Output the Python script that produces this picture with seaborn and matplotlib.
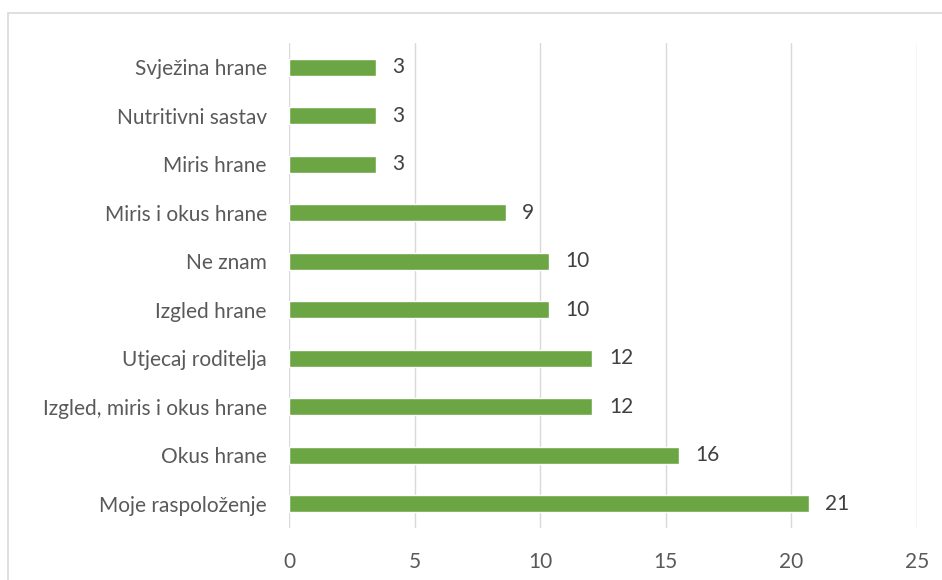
import matplotlib
matplotlib.use("Agg")
import matplotlib.pyplot as plt
import matplotlib.patches as patches
import seaborn as sns
import pandas as pd

# categories, top to bottom
categories = [
    "Svježina hrane",
    "Nutritivni sastav",
    "Miris hrane",
    "Miris i okus hrane",
    "Ne znam",
    "Izgled hrane",
    "Utjecaj roditelja",
    "Izgled, miris i okus hrane",
    "Okus hrane",
    "Moje raspoloženje",
]
values = [3.45, 3.45, 3.45, 8.62, 10.34, 10.34, 12.07, 12.07, 15.52, 20.69]
x_ticks = [0, 5, 10, 15, 20, 25]

df = pd.DataFrame({"category": categories, "value": values})

sns.set_theme(style="white")
plt.rcParams["font.family"] = ["Lato", "DejaVu Sans"]

fig = plt.figure(figsize=(9.42, 5.80), dpi=100)
ax = fig.add_axes([289 / 942, 1 - 528 / 580, (917 - 289) / 942, (528 - 43) / 580])

sns.barplot(data=df, x="value", y="category", orient="h", color="#6CA644",
            saturation=1, width=0.36, ax=ax)

ax.set_xlim(0, 25)
ax.set_ylim(9.5, -0.5)
ax.set_xticks(x_ticks)
ax.grid(axis="x", color="#D9D9D9", linewidth=1)
ax.set_axisbelow(True)
for s in ax.spines.values():
    s.set_visible(False)
ax.set_xlabel("")
ax.set_ylabel("")
ax.tick_params(axis="both", length=0, labelsize=15, colors="#595959")
ax.tick_params(axis="x", pad=17)
ax.tick_params(axis="y", pad=16)

ax.bar_label(ax.containers[0], fmt="%.0f", padding=12, fontsize=15, color="#404040")

# chart border
fig.patches.append(patches.Rectangle((8 / 942, -0.1), 1.1, 1 - 13 / 580 + 0.1,
                                     transform=fig.transFigure, fill=False,
                                     edgecolor="#D9D9D9", linewidth=1.2))

fig.savefig("out.png", dpi=100)
